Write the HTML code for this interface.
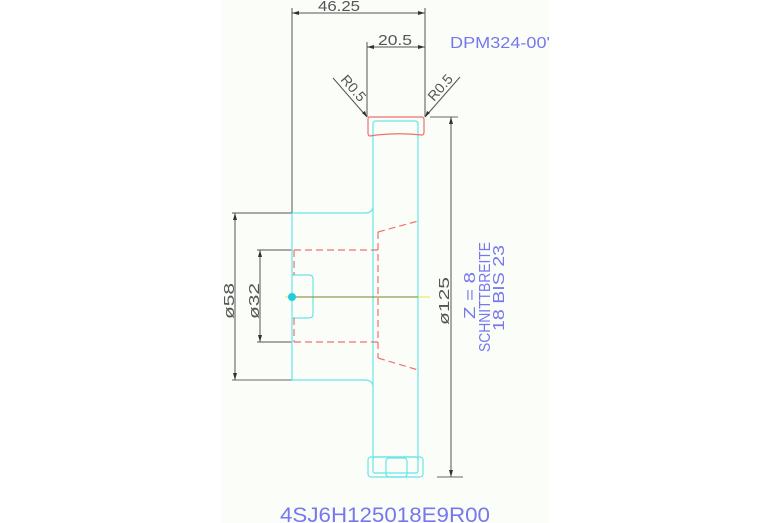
<!DOCTYPE html>
<html><head><style>
html,body{margin:0;padding:0;background:#fff;}
svg{display:block;}
text{font-family:"Liberation Sans",sans-serif;}
</style></head><body>
<svg width="767" height="523" viewBox="0 0 767 523" xmlns="http://www.w3.org/2000/svg">
<rect x="222" y="0" width="328" height="523" fill="#fbfdf9"/>
<g stroke="#555" stroke-width="1" fill="none">
 <line x1="292" y1="8" x2="292" y2="213"/>
 <line x1="425" y1="8" x2="425" y2="117"/>
 <line x1="292" y1="13" x2="425" y2="13"/>
 <line x1="367" y1="42" x2="367" y2="117"/>
 <line x1="367" y1="47" x2="425" y2="47"/>
 <line x1="333" y1="78" x2="367" y2="117"/>
 <line x1="460" y1="77" x2="425" y2="117"/>
 <line x1="430" y1="117" x2="458" y2="117" stroke="#999" stroke-width="1.5"/>
 <line x1="437" y1="477" x2="463" y2="477" stroke="#999" stroke-width="1.5"/>
 <line x1="451" y1="117" x2="451" y2="477"/>
 <line x1="232" y1="213" x2="292" y2="213"/>
 <line x1="232" y1="380" x2="292" y2="380" stroke="#999" stroke-width="1.5"/>
 <line x1="235" y1="213" x2="235" y2="380"/>
 <line x1="257" y1="250" x2="292" y2="250"/>
 <line x1="257" y1="342" x2="292" y2="342"/>
 <line x1="260" y1="250" x2="260" y2="342"/>
</g>
<g fill="#333">
 <path d="M292 13 l7 -2 v4z M425 13 l-7 -2 v4z M367 47 l7 -2 v4z M425 47 l-7 -2 v4z"/>
 <path d="M451 117 l-2 7 h4z M451 477 l-2 -7 h4z"/>
 <path d="M235 213 l-2 7 h4z M235 380 l-2 -7 h4z M260 250 l-2 7 h4z M260 342 l-2 -7 h4z"/>
 <path d="M367 117 l-5 -4 l3 -2z M425 117 l5 -4 l-3 -2z"/>
</g>
<g fill="#555" font-size="15">
 <text x="318" y="11" textLength="42" lengthAdjust="spacingAndGlyphs">46.25</text>
 <text x="378" y="45" textLength="34" lengthAdjust="spacingAndGlyphs">20.5</text>
 <text transform="translate(340,80) rotate(49)" font-size="14" textLength="30" lengthAdjust="spacingAndGlyphs">R0.5</text>
 <text transform="translate(434,102) rotate(-49)" font-size="14" textLength="30" lengthAdjust="spacingAndGlyphs">R0.5</text>
 <text transform="translate(234,319) rotate(-90)" textLength="36" lengthAdjust="spacingAndGlyphs">ø58</text>
 <text transform="translate(259,319) rotate(-90)" textLength="36" lengthAdjust="spacingAndGlyphs">ø32</text>
 <text transform="translate(449,325) rotate(-90)" textLength="48" lengthAdjust="spacingAndGlyphs">ø125</text>
</g>
<g stroke="#66e6e6" stroke-width="1.2" fill="none">
 <line x1="373" y1="124" x2="373" y2="460"/>
 <line x1="418" y1="124" x2="418" y2="460"/>
 <path d="M373 124 q0 -3 3 -3 h39 q3 0 3 3"/>
 <path d="M292 213 h73 q7 0 8 -6"/>
 <path d="M292 380 h73 q7 0 8 6"/>
 <line x1="292" y1="213" x2="292" y2="380"/>
 <path d="M292 275 h17 q4 0 4 4 v35 q0 4 -4 4 h-17"/>
 <rect x="368" y="457" width="55" height="20" rx="3"/>
 <rect x="373" y="457" width="45" height="16" rx="2"/>
 <rect x="386" y="458" width="21" height="19" rx="3"/>
</g>
<g stroke="#f07070" stroke-width="1.2" fill="none">
 <path d="M369 117 h53 q2 0 2 3 v12 q0 3 -2 3 q-26 -3 -52 1 q-2 0 -2 -3 v-13 q0 -3 1 -3z"/>
 <g stroke-dasharray="7,4">
  <line x1="294" y1="250" x2="378" y2="250"/>
  <line x1="294" y1="342" x2="378" y2="342"/>
  <line x1="294" y1="250" x2="294" y2="275"/>
  <line x1="294" y1="318" x2="294" y2="342"/>
  <line x1="378" y1="232" x2="378" y2="358"/>
  <line x1="378" y1="232" x2="418" y2="221"/>
  <line x1="378" y1="358" x2="418" y2="370"/>
 </g>
</g>
<line x1="292" y1="297" x2="418" y2="297" stroke="#808030" stroke-width="1"/>
<line x1="418" y1="297" x2="430" y2="297" stroke="#e6e640" stroke-width="1"/>
<line x1="285" y1="297" x2="292" y2="297" stroke="#e6e640" stroke-width="1"/>
<circle cx="292" cy="297" r="4" fill="#22ccdd"/>
<g fill="#7777ee">
 <text x="450" y="48" font-size="16" textLength="100" lengthAdjust="spacingAndGlyphs">DPM324-00'</text>
 <text transform="translate(475,319) rotate(-90)" font-size="16" textLength="47" lengthAdjust="spacingAndGlyphs">Z = 8</text>
 <text transform="translate(490,352) rotate(-90)" font-size="16" textLength="110" lengthAdjust="spacingAndGlyphs">SCHNITTBREITE</text>
 <text transform="translate(504,331) rotate(-90)" font-size="16" textLength="86" lengthAdjust="spacingAndGlyphs">18 BIS 23</text>
 <text x="280" y="522" font-size="21" textLength="210" lengthAdjust="spacingAndGlyphs">4SJ6H125018E9R00</text>
</g>
</svg>
</body></html>
